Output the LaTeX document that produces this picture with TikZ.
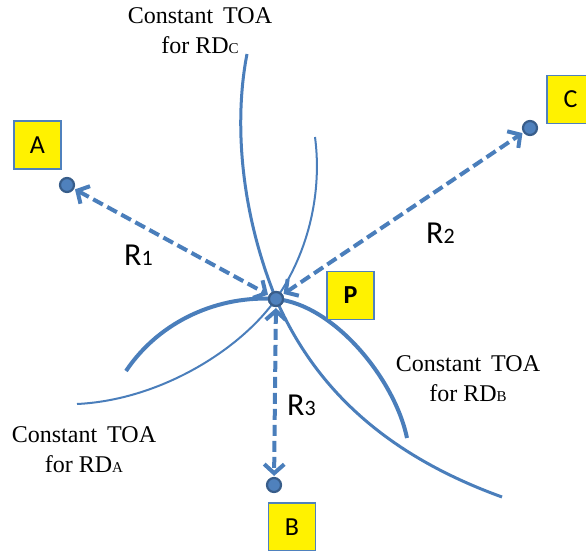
\documentclass[tikz,border=0pt]{standalone}
\usepackage{fontspec}
\setmainfont{Liberation Serif}
\newfontfamily\calibri{Carlito}
\usetikzlibrary{arrows.meta}
\definecolor{curveblue}{HTML}{4A7EBB}
\definecolor{dotblue}{HTML}{4F81BD}
\definecolor{dotrim}{HTML}{385D8A}
\newcommand{\smallsub}[1]{{\fontsize{15}{15}\selectfont #1}}
\newcommand{\rsub}[1]{{\fontsize{22}{22}\selectfont #1}}
\tikzset{
    letter-box/.style = {draw=dotblue, fill=yellow, line width=1.3pt, minimum width=47pt, minimum height=48pt, inner sep=0pt, font=\calibri\fontsize{26}{26}\selectfont},
    site-dot/.style = {circle, draw=dotrim, fill=dotblue, line width=2.2pt, minimum size=14pt, inner sep=0pt},
    range-ray/.style = {curveblue, line width=4pt, dash pattern=on 11pt off 5pt, {Straight Barb[length=9pt,width=20pt]}-{Straight Barb[length=9pt,width=20pt]}, shorten <=1pt, shorten >=1pt},
    toa-label/.style = {align=center, font=\fontsize{24}{30}\selectfont},
    range-label/.style = {anchor=base west, inner sep=0pt, font=\calibri\fontsize{32}{32}\selectfont},
}

\begin{document}
\begin{tikzpicture}[x=1pt,y=-1pt]
\useasboundingbox (0,0) rectangle (586,551);

% points
\node[site-dot] (a) at (67,185) {};
\node[site-dot] (c) at (530,128) {};
\node[site-dot] (b) at (274,485) {};
\node[site-dot] (p) at (276,299) {};

% constant TOA curves
\draw[curveblue, line width=3pt] (247,54) .. controls (236,110) and (236,200) .. (p.center)
    .. controls (320,400) and (400,460) .. (502,497);
\draw[curveblue, line width=2pt] (315,137) .. controls (322,190) and (310,250) .. (p.center)
    .. controls (240,350) and (160,400) .. (77,404);
\draw[curveblue, line width=4pt] (126,371) .. controls (160,320) and (220,295) .. (p.center)
    .. controls (335,305) and (395,380) .. (407,438);

% ranges
\draw[range-ray] (a) -- (p);
\draw[range-ray] (p) -- (c);
\draw[range-ray] (p) -- (b);
\node[site-dot] at (p) {};

\node[letter-box] (boxa) at (37.5,145) {A};
\node[letter-box] (boxc) at (570.5,99.5) {C};
\node[letter-box] (boxb) at (292,527) {B};
\node[letter-box, font=\calibri\bfseries\fontsize{26}{26}\selectfont] (boxp) at (350.5,295.5) {P};

\node[range-label] (r1) at (124,265) {R\rsub{1}};
\node[range-label] (r2) at (426,243) {R\rsub{2}};
\node[range-label] (r3) at (287,415) {R\rsub{3}};

\node[toa-label] (toac) at (200,31) {Constant\, TOA\\for RD\smallsub{C}};
\node[toa-label] (toab) at (468,379) {Constant\, TOA\\for RD\smallsub{B}};
\node[toa-label] (toaa) at (84,450) {Constant\, TOA\\for RD\smallsub{A}};
\end{tikzpicture}
\end{document}
